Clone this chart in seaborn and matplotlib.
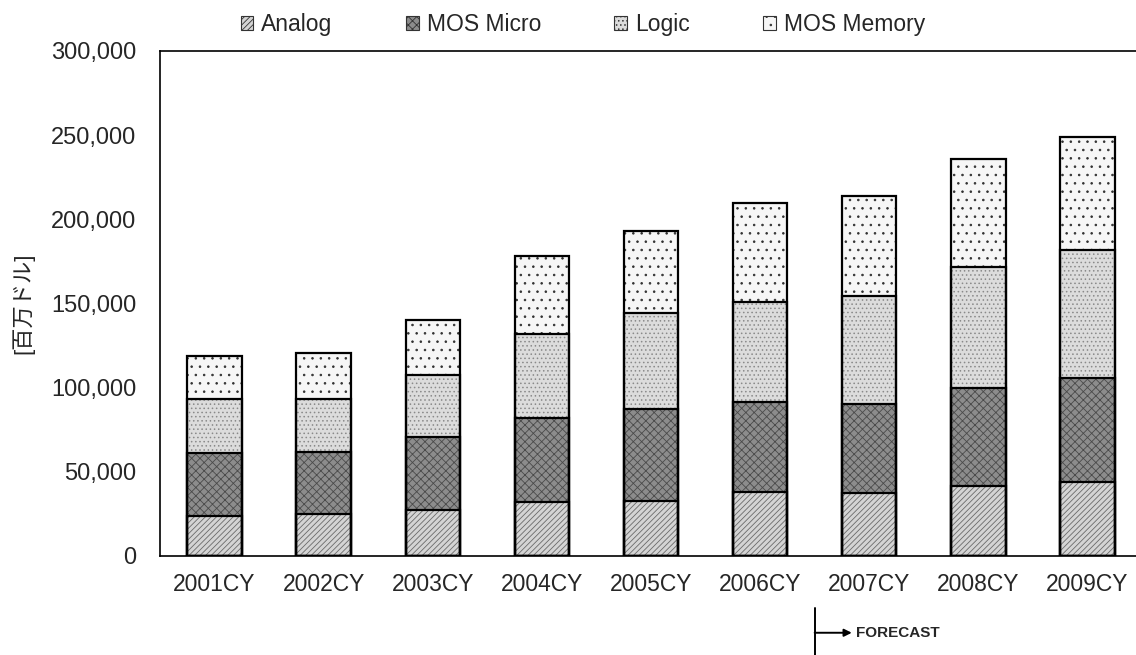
import matplotlib
matplotlib.use("Agg")
import matplotlib.pyplot as plt
from matplotlib.patches import Patch, Rectangle
from matplotlib.ticker import FuncFormatter, FixedLocator
import seaborn as sns
import numpy as np
import pandas as pd

years = ["2001CY", "2002CY", "2003CY", "2004CY", "2005CY",
         "2006CY", "2007CY", "2008CY", "2009CY"]
series = ["Analog", "MOS Micro", "Logic", "MOS Memory"]

analog = [23700, 24900, 27400, 32100, 32700, 38000, 37400, 41500, 44000]
mos_micro = [37400, 37000, 43000, 49900, 54600, 53400, 52900, 58400, 62000]
logic = [32100, 31300, 37200, 49900, 57000, 59700, 64300, 71900, 75900]
mos_memory = [25800, 27600, 32700, 46500, 48700, 58800, 59300, 63900, 67000]

ylabel = "[百万ドル]"
forecast_text = "FORECAST"

sns.set_style("white")
plt.rcParams["font.family"] = ["Liberation Sans", "Noto Sans CJK JP", "DejaVu Sans"]
plt.rcParams["hatch.linewidth"] = 0.6

df = pd.DataFrame({"year": years, "Analog": analog, "MOS Micro": mos_micro,
                   "Logic": logic, "MOS Memory": mos_memory})

styles = {
    "Analog": dict(facecolor="#d4d4d4", hatch="//////", hcol="#6a6a6a"),
    "MOS Micro": dict(facecolor="#8c8c8c", hatch="xxxx", hcol="#4a4a4a"),
    "Logic": dict(facecolor="#dcdcdc", hatch="....", hcol="#8a8a8a"),
    "MOS Memory": dict(facecolor="#f6f6f6", hatch="..", hcol="#303030"),
}

fig = plt.figure(figsize=(11.36, 6.55), dpi=100)
ax = fig.add_axes([160 / 1136, 99 / 655, 982 / 1136, 505 / 655])

# stacked bars: draw cumulative totals, top layer first
cum = df[series].cumsum(axis=1)
for s in reversed(series):
    n_before = len(ax.patches)
    sns.barplot(x=df["year"], y=cum[s], ax=ax, width=0.5, errorbar=None,
                color=styles[s]["facecolor"], order=years)
    for p in ax.patches[n_before:]:
        p.set_facecolor(styles[s]["facecolor"])
        p.set_hatch(styles[s]["hatch"])
        p.set_edgecolor(styles[s]["hcol"])
        p.set_linewidth(0)

# black outlines around every segment
for p in list(ax.patches):
    ax.add_patch(Rectangle(p.get_xy(), p.get_width(), p.get_height(),
                           facecolor="none", edgecolor="black", linewidth=1.6,
                           zorder=3))

ax.set_xlim(-0.5, len(years) - 0.5)
ax.set_ylim(0, 300000)
ax.yaxis.set_major_locator(FixedLocator(np.arange(0, 300001, 50000)))
ax.yaxis.set_major_formatter(FuncFormatter(lambda v, _: f"{v:,.0f}"))
ax.set_xlabel("")
ax.set_ylabel(ylabel, fontsize=16, labelpad=12)

ax.tick_params(axis="x", which="major", length=0, labelsize=16.5, pad=12)
ax.xaxis.set_minor_locator(FixedLocator(np.arange(0.5, len(years) - 0.5, 1)))
ax.tick_params(axis="x", which="minor", direction="in", length=4, width=0.8)
ax.tick_params(axis="y", direction="in", length=3, labelsize=17, pad=17)

for sp in ax.spines.values():
    sp.set_visible(True)
    sp.set_color("black")
    sp.set_linewidth(1.2)

handles = [Patch(facecolor=styles[s]["facecolor"], hatch=styles[s]["hatch"],
                 edgecolor="#333333", linewidth=0.8) for s in series]
fig.legend(handles, series, loc="upper center", bbox_to_anchor=(0.513, 1.012),
           ncol=4, frameon=False, fontsize=16.5, handlelength=0.55,
           handleheight=0.55, handletextpad=0.35, columnspacing=3.2)

# forecast marker under the 2006/2007 boundary
trans = ax.get_xaxis_transform()
ax.plot([5.5, 5.5], [-0.103, -0.196], color="black", lw=1.4,
        transform=trans, clip_on=False)
ax.annotate("", xy=(5.84, -0.152), xytext=(5.5, -0.152), xycoords=trans,
            textcoords=trans,
            arrowprops=dict(arrowstyle="-|>", color="black", lw=1.4,
                            mutation_scale=11, shrinkA=0, shrinkB=0))
ax.text(5.88, -0.152, forecast_text, transform=trans, fontsize=11,
        fontweight="bold", va="center", ha="left")

fig.savefig("out.png", dpi=100)
